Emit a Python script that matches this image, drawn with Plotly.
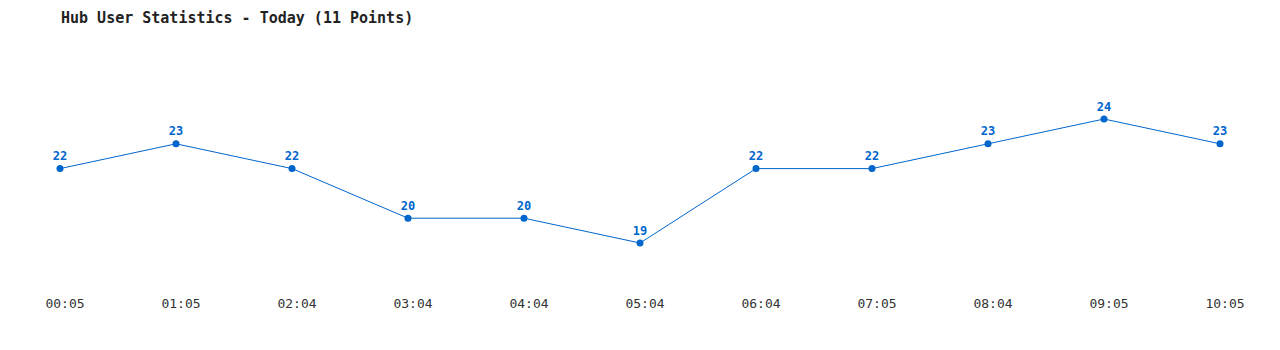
import plotly.graph_objects as go

times = ["00:05", "01:05", "02:04", "03:04", "04:04", "05:04", "06:04", "07:05", "08:04", "09:05", "10:05"]
users = [22, 23, 22, 20, 20, 19, 22, 22, 23, 24, 23]
title = "Hub User Statistics - Today (11 Points)"

color = "#0066cc"
mono = "DejaVu Sans Mono, Liberation Mono, monospace"

xs = list(range(len(times)))

fig = go.Figure(go.Scatter(
    x=xs, y=users,
    mode="lines+markers+text",
    text=[str(v) for v in users],
    textposition="top center",
    textfont=dict(family=mono, size=12, color=color, weight="bold"),
    line=dict(color=color, width=1),
    marker=dict(color=color, size=7),
    cliponaxis=False,
    hoverinfo="skip",
))

fig.update_layout(
    width=1280, height=350,
    margin=dict(l=0, r=0, t=40, b=60),
    paper_bgcolor="white", plot_bgcolor="white",
    showlegend=False,
    xaxis=dict(
        range=[-60 / 116, 10 + 60 / 116],
        tickmode="array", tickvals=xs, ticktext=times,
        showgrid=False, zeroline=False, showline=False,
        ticks="outside", ticklen=1, tickcolor="rgba(0,0,0,0)",
        tickfont=dict(family=mono, size=13, color="#333333"),
        ticklabelshift=5,
        fixedrange=True,
    ),
    yaxis=dict(
        range=[24 - 171 / 24.8, 24 + 79 / 24.8],
        showgrid=False, zeroline=False, showline=False,
        showticklabels=False, ticks="", fixedrange=True,
    ),
    annotations=[dict(
        text=title, xref="paper", yref="paper",
        x=59 / 1280, y=1, yshift=22, xanchor="left", yanchor="middle",
        showarrow=False,
        font=dict(family=mono, size=15, color="#222222", weight="bold"),
    )],
)

fig.write_html("out.html")
